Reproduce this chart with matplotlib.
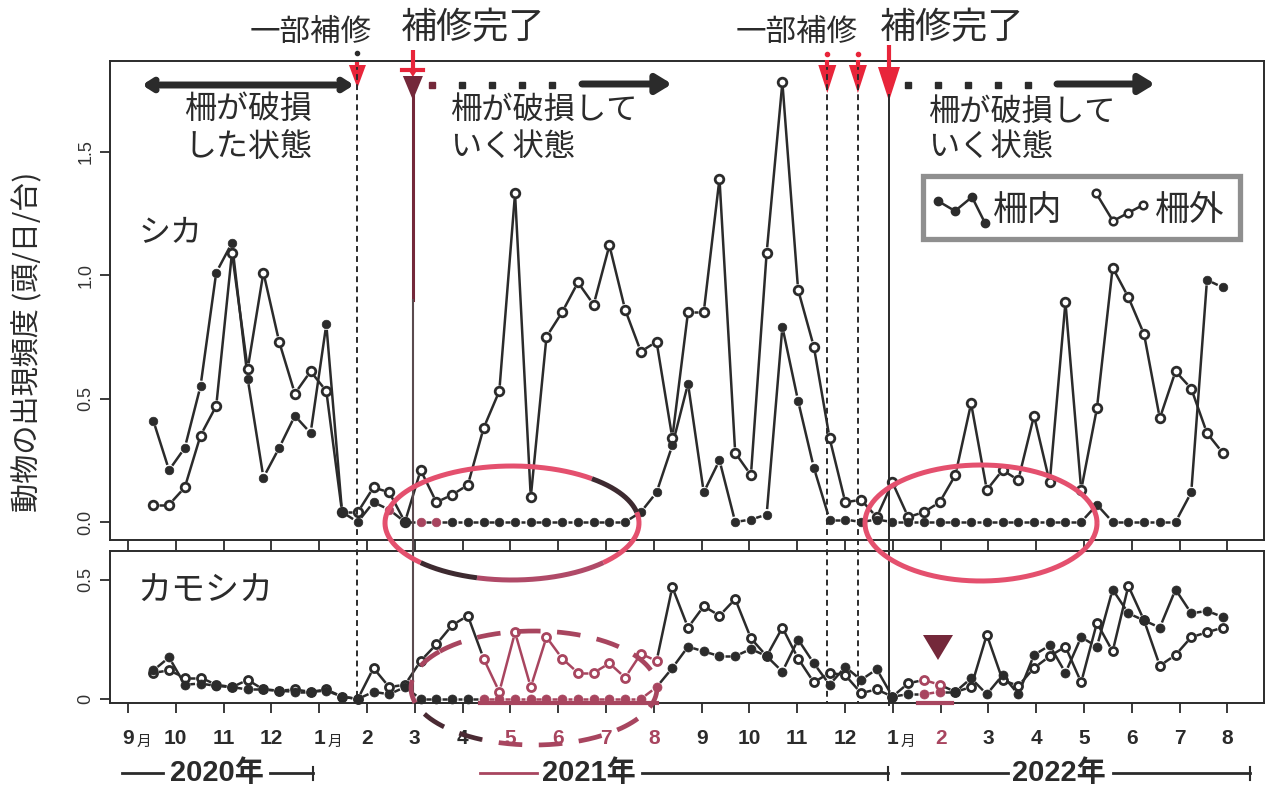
import numpy as np
import matplotlib
matplotlib.use('Agg')
import matplotlib.pyplot as plt
from matplotlib import transforms
from matplotlib.collections import LineCollection
from matplotlib.patches import Polygon, Rectangle

plt.rcParams['font.family'] = ['Noto Sans CJK JP', 'DejaVu Sans']

W, H = 1269, 791
DARK = '#2b2b2b'
MAROON = '#a8455f'
DEEP = '#74283a'
RED = '#e8253a'
PINK = '#e4506e'
NUM = ['Liberation Sans', 'Noto Sans CJK JP']

# month ticks, Sep 2020 .. Aug 2022 (0 = 1 Sep 2020)
month_labels = ['9', '10', '11', '12', '1', '2', '3', '4', '5', '6', '7', '8',
                '9', '10', '11', '12', '1', '2', '3', '4', '5', '6', '7', '8']
# roughly 10-day survey periods, mid Sep 2020 .. late Aug 2022
period = np.arange(69)
x = 0.53 + 0.329 * period

# シカ (deer)
shika_in = [0.41, 0.21, 0.30, 0.55, 1.01, 1.13, 0.58, 0.18, 0.30, 0.43,
            0.36, 0.80, 0.04, 0.00, 0.08, 0.05, 0.00, 0.00, 0.00, 0.00,
            0.00, 0.00, 0.00, 0.00, 0.00, 0.00, 0.00, 0.00, 0.00, 0.00,
            0.00, 0.04, 0.12, 0.31, 0.56, 0.12, 0.25, 0.00, 0.01, 0.03,
            0.79, 0.49, 0.22, 0.01, 0.01, 0.00, 0.01, 0.00, 0.00, 0.00,
            0.00, 0.00, 0.00, 0.00, 0.00, 0.00, 0.00, 0.00, 0.00, 0.00,
            0.07, 0.00, 0.00, 0.00, 0.00, 0.00, 0.12, 0.98, 0.95]
shika_out = [0.07, 0.07, 0.14, 0.35, 0.47, 1.09, 0.62, 1.01, 0.73, 0.52,
             0.61, 0.53, 0.04, 0.04, 0.14, 0.12, 0.00, 0.21, 0.08, 0.11,
             0.15, 0.38, 0.53, 1.33, 0.10, 0.75, 0.85, 0.97, 0.88, 1.12,
             0.86, 0.69, 0.73, 0.34, 0.85, 0.85, 1.39, 0.28, 0.19, 1.09,
             1.78, 0.94, 0.71, 0.34, 0.08, 0.09, 0.02, 0.16, 0.02, 0.04,
             0.08, 0.19, 0.48, 0.13, 0.21, 0.17, 0.43, 0.16, 0.89, 0.13,
             0.46, 1.03, 0.91, 0.76, 0.42, 0.61, 0.54, 0.36, 0.28]
# カモシカ (serow)
kamo_in = [0.12, 0.175, 0.06, 0.065, 0.055, 0.05, 0.04, 0.04, 0.035, 0.03,
           0.03, 0.035, 0.01, 0.00, 0.03, 0.02, 0.05, 0.00, 0.00, 0.00,
           0.00, 0.00, 0.00, 0.00, 0.00, 0.00, 0.00, 0.00, 0.00, 0.00,
           0.00, 0.00, 0.05, 0.13, 0.22, 0.20, 0.18, 0.18, 0.21, 0.18,
           0.115, 0.25, 0.15, 0.06, 0.135, 0.08, 0.125, 0.01, 0.02, 0.02,
           0.03, 0.03, 0.087, 0.02, 0.10, 0.02, 0.185, 0.225, 0.11, 0.26,
           0.22, 0.46, 0.36, 0.33, 0.30, 0.46, 0.36, 0.37, 0.345]
kamo_out = [0.11, 0.12, 0.09, 0.09, 0.06, 0.05, 0.08, 0.04, 0.035, 0.04,
            0.03, 0.04, 0.01, 0.00, 0.13, 0.05, 0.06, 0.16, 0.23, 0.31,
            0.35, 0.17, 0.03, 0.28, 0.05, 0.26, 0.17, 0.11, 0.11, 0.15,
            0.09, 0.19, 0.16, 0.47, 0.30, 0.39, 0.35, 0.42, 0.255, 0.18,
            0.30, 0.17, 0.07, 0.11, 0.10, 0.025, 0.04, 0.01, 0.066, 0.08,
            0.06, 0.03, 0.05, 0.27, 0.08, 0.055, 0.13, 0.18, 0.22, 0.07,
            0.32, 0.20, 0.475, 0.33, 0.14, 0.185, 0.26, 0.28, 0.30]

# fence events (months since 1 Sep 2020)
partial_repair = [4.8, 14.63, 15.27]
full_repair = [5.96, 15.92]

top_red = [15, 17, 18]
bottom_red = list(range(21, 33)) + [49, 50]

fig = plt.figure(figsize=(W / 100, H / 100), dpi=100)


def px_axes(l, t, r, b, **kw):
    return fig.add_axes([l / W, 1 - b / H, (r - l) / W, (b - t) / H], **kw)


ax1 = px_axes(110, 61, 1264, 540)
ax2 = px_axes(110, 551, 1264, 703)
ov = fig.add_axes([0, 0, 1, 1], zorder=10)
ov.set_xlim(0, W)
ov.set_ylim(H, 0)
ov.axis('off')
ov.patch.set_alpha(0)

xl = (-18 / 47.8, 1136 / 47.8)
ax1.set_xlim(*xl)
ax2.set_xlim(*xl)
ax1.set_ylim(-18 / 247, 461 / 247)
ax2.set_ylim(-4 / 238, 148 / 238)

for ax in (ax1, ax2):
    for s in ax.spines.values():
        s.set_linewidth(1.4)
        s.set_color(DARK)
    ax.set_xticks(range(24))
    ax.tick_params(axis='x', direction='out', length=7.5, width=1.3,
                   colors=DARK, labelbottom=False)
    ax.tick_params(axis='y', direction='out', length=7, width=1.3,
                   colors=DARK, labelsize=13, pad=4)

ax1.set_yticks([0, 0.5, 1.0, 1.5])
ax1.set_yticklabels(['0.0', '0.5', '1.0', '1.5'], rotation=90, va='center',
                    family=NUM, color='#333333')
ax2.set_yticks([0, 0.5])
ax2.set_yticklabels(['0', '0.5'], rotation=90, va='center',
                    family=NUM, color='#333333')


def draw_b(ax, xs, ys, red_idx, gap=5.5, lw=1.8):
    """R type='b' style: segments that stop short of each point"""
    pts = ax.transData.transform(np.column_stack([xs, ys]))
    inv = ax.transData.inverted()
    segs, cols = [], []
    for k in range(len(pts) - 1):
        p, q = pts[k], pts[k + 1]
        d = q - p
        L = np.hypot(*d)
        if L <= 2 * gap + 1.5:
            continue
        u = d / L
        segs.append(inv.transform(np.array([p + u * gap, q - u * gap])))
        both = k in red_idx and (k + 1) in red_idx
        cols.append(MAROON if both else DARK)
    ax.add_collection(LineCollection(segs, colors=cols, linewidths=lw,
                                     capstyle='butt', zorder=3))


def draw_points(ax, xs, ys, red_idx, hollow, ms=6.2):
    cols = [MAROON if k in red_idx else DARK for k in range(len(xs))]
    for k in range(len(xs)):
        if hollow:
            ax.plot(xs[k], ys[k], 'o', ms=ms, mfc='white', mec=cols[k],
                    mew=2.0, zorder=5, clip_on=False)
        else:
            ax.plot(xs[k], ys[k], 'o', ms=ms, mfc=cols[k], mec=cols[k],
                    mew=0.5, zorder=6, clip_on=False)


draw_b(ax1, x, shika_out, [])
draw_b(ax1, x, shika_in, [])
draw_points(ax1, x, shika_out, [], True)
draw_points(ax1, x, shika_in, top_red, False)

draw_b(ax2, x, kamo_out, bottom_red)
draw_b(ax2, x, kamo_in, bottom_red)
draw_points(ax2, x, kamo_out, bottom_red, True, ms=5.8)
draw_points(ax2, x, kamo_in, bottom_red, False, ms=6.5)

# blended transform: x in months, y in figure pixels
bt = transforms.blended_transform_factory(ax1.transData, ov.transData)

# event lines
for ev in partial_repair:
    ov.plot([ev, ev], [64, 703], transform=bt, color=DARK, lw=1.4,
            ls=(0, (3, 2.2)), zorder=2)
ov.plot([full_repair[0]] * 2, [95, 300], transform=bt, color=DEEP, lw=2.2)
ov.plot([full_repair[0]] * 2, [300, 703], transform=bt, color='#5a4a4e', lw=1.5)
ov.plot([full_repair[1]] * 2, [95, 705], transform=bt, color=DARK, lw=1.4)


def red_arrow(xm, y0, y1, hw, hh, color=RED):
    ov.plot([xm, xm], [y0, y1 - hh + 2], transform=bt, color=color, lw=3,
            solid_capstyle='butt')
    px = bt.transform([[xm, 0]])[0][0]
    px = ov.transData.inverted().transform([[px, 0]])[0][0]
    ov.add_patch(Polygon([[px - hw / 2, y1 - hh], [px + hw / 2, y1 - hh],
                          [px, y1]], closed=True, color=color, lw=0))


red_arrow(partial_repair[0], 62, 88, 17, 23)
ov.plot([partial_repair[0]], [53], 'o', transform=bt, ms=3, color=DARK)
red_arrow(full_repair[0], 50, 77, 10, 8)
ov.plot([full_repair[0] - 0.22, full_repair[0] + 0.22], [70, 70], transform=bt,
        color=RED, lw=3)
red_arrow(full_repair[0], 76, 100, 20, 24, color=DEEP)
for ev in partial_repair[1:]:
    ov.plot([ev], [54], 'o', transform=bt, ms=3, color=RED)
    red_arrow(ev, 60, 93, 18, 28)
red_arrow(full_repair[1], 45, 101, 22, 34)

# header texts
ov.text(311, 32, '一部補修', fontsize=22, ha='center', va='center', color=DARK)
ov.text(473, 28, '補修完了', fontsize=26, ha='center', va='center', color=DARK)
ov.text(797, 32, '一部補修', fontsize=22, ha='center', va='center', color=DARK)
ov.text(952, 28, '補修完了', fontsize=26, ha='center', va='center', color=DARK)

# status arrows
ov.annotate('', xy=(142, 85), xytext=(354, 85),
            arrowprops=dict(arrowstyle='<->, head_length=0.55, head_width=0.35',
                            lw=5, color=DARK, shrinkA=0, shrinkB=0))
for xs_sq, a0, a1 in [([432, 462, 492, 522, 552], 582, 672),
                      ([908, 938, 968, 998, 1028], 1057, 1155)]:
    for j, xq in enumerate(xs_sq):
        ov.plot(xq, 85, 's', ms=5, color=DEEP if (j == 0 and xq < 500) else DARK)
    ov.annotate('', xy=(a1, 84), xytext=(a0, 84),
                arrowprops=dict(arrowstyle='-|>, head_length=0.9, head_width=0.55',
                                lw=5, color=DARK, shrinkA=0, shrinkB=0))

ov.text(248, 110, '柵が破損', fontsize=23, ha='center', va='center', color=DARK)
ov.text(248, 147, 'した状態', fontsize=23, ha='center', va='center', color=DARK)
ov.text(450, 110, '柵が破損して', fontsize=22.5, ha='left', va='center', color=DARK)
ov.text(450, 147, 'いく状態', fontsize=22.5, ha='left', va='center', color=DARK)
ov.text(928, 112, '柵が破損して', fontsize=22.5, ha='left', va='center', color=DARK)
ov.text(928, 147, 'いく状態', fontsize=22.5, ha='left', va='center', color=DARK)

ov.text(139, 233, 'シカ', fontsize=23, ha='left', va='center', color=DARK)
ov.text(137, 590, 'カモシカ', fontsize=24.5, ha='left', va='center', color=DARK)

ov.text(28, 342, '動物の出現頻度 (頭/日/台)', fontsize=21, rotation=90,
        ha='center', va='center', color=DARK)

# legend
ov.add_patch(Rectangle((923, 176), 317, 63, fill=True, fc='white',
                       ec='#8f8f8f', lw=3.8, zorder=1))
leg_in = [(938, 201), (955, 211), (972, 197), (985, 223)]
leg_out = [(1096, 193), (1113, 221), (1128, 213), (1143, 205)]
for pts, hollow in ((leg_in, False), (leg_out, True)):
    p = np.array(pts, dtype=float)
    for a, b in zip(p[:-1], p[1:]):
        d = b - a
        u = d / np.hypot(*d)
        s, e = a + u * 5, b - u * 5
        if np.hypot(*(e - s)) > 2:
            ov.plot([s[0], e[0]], [s[1], e[1]], color=DARK, lw=1.8)
    for xq, yq in pts:
        if hollow:
            ov.plot(xq, yq, 'o', ms=5.5, mfc='white', mec=DARK, mew=1.8)
        else:
            ov.plot(xq, yq, 'o', ms=6, color=DARK)
ov.text(993, 210, '柵内', fontsize=25, ha='left', va='center', color=DARK)
ov.text(1155, 210, '柵外', fontsize=25, ha='left', va='center', color=DARK)

# ellipses
def ellipse(cx, cy, a, b, t0, t1, color, lw=3.6, ls='-'):
    t = np.radians(np.linspace(t0, t1, 200))
    ov.plot(cx + a * np.cos(t), cy + b * np.sin(t), color=color, lw=lw, ls=ls,
            solid_capstyle='butt', zorder=4)


ellipse(512, 523, 127, 57, -11, 44, PINK)
ellipse(512, 523, 127, 57, 44, 106, '#b04a68')
ellipse(512, 523, 127, 57, 106, 136, '#3d2a30')
ellipse(512, 523, 127, 57, 136, 309, PINK)
ellipse(512, 523, 127, 57, -51, -11, '#3d2a30')
ellipse(981, 523, 116, 58, 0, 360, PINK)
ellipse(534, 688, 123, 57, -140, 115, MAROON, lw=3.4, ls=(0, (5, 3.5)))
ellipse(534, 688, 123, 57, 115, 165, '#4a2a33', lw=3.4, ls=(0, (5, 3.5)))
ellipse(534, 688, 123, 57, 165, 220, MAROON, lw=3.4, ls=(0, (5, 3.5)))

# marker of Feb 2022 in bottom panel
ov.add_patch(Polygon([[923, 635], [953, 635], [938, 660]], closed=True,
                     color=DEEP, lw=0))

# maroon axis stretches
ov.plot([480, 657], [703, 703], color=MAROON, lw=3, zorder=3)
ov.plot([918, 952], [703, 703], color=MAROON, lw=3, zorder=3)

# month labels
for k, lab in enumerate(month_labels):
    col = MAROON if k in (8, 9, 10, 11, 17) else DARK
    ov.text(k, 738, lab, transform=bt, fontsize=15, family=NUM,
            weight='bold', ha='center', va='center', color=col)
    if k in (0, 4, 16):
        ov.text(k + 0.17, 742, '月', transform=bt, fontsize=10.5,
                ha='left', va='center', color=DARK)

# year bars
ov.plot([122, 163], [773, 773], color=DARK, lw=2)
ov.text(217, 773, '2020年', fontsize=21, family=NUM, weight='bold',
        ha='center', va='center', color=DARK)
ov.plot([270, 313], [773, 773], color=DARK, lw=2)
ov.plot([313, 313], [767, 780], color=DARK, lw=1.5)

ov.plot([480, 537], [773, 773], color=MAROON, lw=2)
ov.text(589, 773, '2021年', fontsize=21, family=NUM, weight='bold',
        ha='center', va='center', color=DARK)
ov.plot([642, 888], [773, 773], color=DARK, lw=2)
ov.plot([888, 888], [767, 780], color=DARK, lw=1.5)

ov.plot([902, 1008], [773, 773], color=DARK, lw=2)
ov.text(1059, 773, '2022年', fontsize=21, family=NUM, weight='bold',
        ha='center', va='center', color=DARK)
ov.plot([1113, 1250], [773, 773], color=DARK, lw=2)
ov.plot([1250, 1250], [767, 780], color=DARK, lw=1.5)

fig.savefig('out.png', dpi=100)
